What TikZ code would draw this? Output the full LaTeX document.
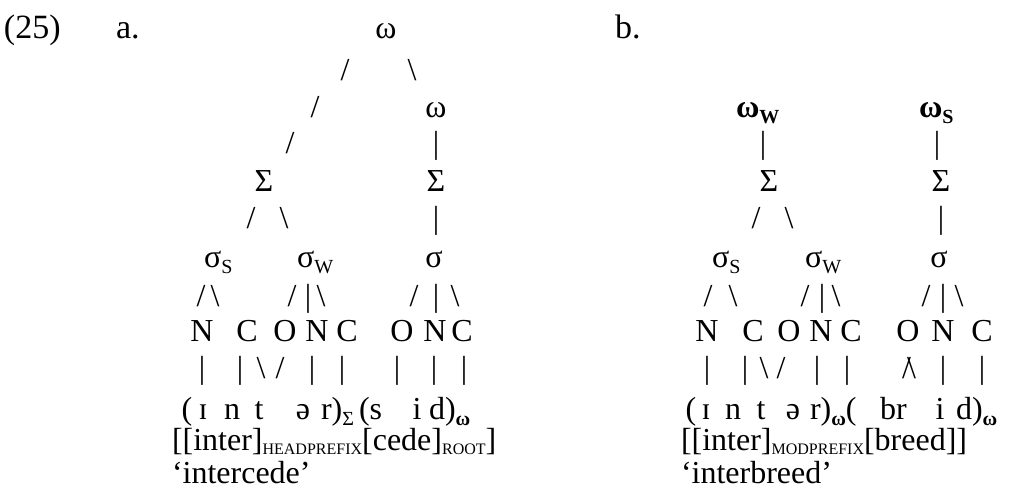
\documentclass[tikz,border=0pt]{standalone}
\usepackage{fontspec}
\setmainfont{Liberation Serif}
\newcommand{\lsub}[1]{\raisebox{-0.2em}{\fontsize{20}{20}\selectfont #1}}
\newcommand{\scsub}[1]{\raisebox{-0.14em}{\fontsize{16}{16}\selectfont #1}}
\newcommand{\bs}{\textbackslash}
\begin{document}
\begin{tikzpicture}[x=1pt,y=-1pt,
  tx/.style={inner sep=0pt, outer sep=0pt, anchor=base, font=\fontsize{32}{38}\selectfont},
  tw/.style={tx, anchor=base west},
  big/.style={tw, font=\fontsize{34}{40}\selectfont}]
\useasboundingbox (0,0) rectangle (1014,501);
% labels
\node[big] (num) at (4,38) {(25)};
\node[big] (la) at (116,38) {a.};
\node[big] (lb) at (615,38) {b.};
% ---- tree a ----
\node[tx] (a0) at (386,38) {ω};
\node[tx] (a1l) at (345,80) {/};
\node[tx] (a1r) at (412,80) {\bs};
\node[tx] (a2l) at (315,117) {/};
\node[tx] (a2w) at (436,117) {ω};
\node[tx] (a3l) at (290,153) {/};
\node[tx] (a3b) at (436,153) {|};
\node[tx] (aS1) at (264,191) {Σ};
\node[tx] (aS2) at (436,191) {Σ};
\node[tx] (a4l) at (251,228) {/};
\node[tx] (a4r) at (284,228) {\bs};
\node[tx] (a4b) at (436,228) {|};
\node[tw] (as1) at (204,267) {σ\lsub{S}};
\node[tw] (as2) at (297,267) {σ\lsub{W}};
\node[tx] (as3) at (434,267) {σ};
\node[tx] (a5a) at (201,306) {/};
\node[tx] (a5b) at (215,306) {\bs};
\node[tx] (a5c) at (292,306) {/};
\node[tx] (a5d) at (308,306) {|};
\node[tx] (a5e) at (321,306) {\bs};
\node[tx] (a5f) at (414,306) {/};
\node[tx] (a5g) at (436,306) {|};
\node[tx] (a5h) at (455,306) {\bs};
\node[tx] (aN1) at (202,341) {N};
\node[tx] (aC1) at (247,341) {C};
\node[tx] (aO1) at (285,341) {O};
\node[tx] (aN2) at (317,341) {N};
\node[tx] (aC2) at (347,341) {C};
\node[tx] (aO2) at (402,341) {O};
\node[tx] (aN3) at (435,341) {N};
\node[tx] (aC3) at (462,341) {C};
\node[tx] (a6a) at (202,378) {|};
\node[tx] (a6b) at (240,378) {|};
\node[tx] (a6c) at (261,378) {\bs};
\node[tx] (a6d) at (280,378) {/};
\node[tx] (a6e) at (312,378) {|};
\node[tx] (a6f) at (342,378) {|};
\node[tx] (a6g) at (397,378) {|};
\node[tx] (a6h) at (434,378) {|};
\node[tx] (a6i) at (464,378) {|};
\node[tx] (ap1) at (187,419) {(};
\node[tx] (ap2) at (203,419) {ɪ};
\node[tx] (ap3) at (232,419) {n};
\node[tx] (ap4) at (259,419) {t};
\node[tx] (ap5) at (303,419) {ə};
\node[tw] (ap6) at (321,419) {r)\lsub{Σ}};
\node[tw] (ap7) at (359,419) {(s};
\node[tx] (ap8) at (417,419) {i};
\node[tw] (ap9) at (429,419) {d)\lsub{\bfseries ω}};
\node[tw] (amorph) at (172,450) {[[inter]\scsub{HEADPREFIX}[cede]\scsub{ROOT}]};
\node[tw] (agloss) at (172,483) {‘intercede’};
% ---- tree b ----
\node[tw] (bw1) at (736,117) {\bfseries ω\lsub{W}};
\node[tw] (bw2) at (919,117) {\bfseries ω\lsub{S}};
\node[tx] (b3a) at (763,153) {|};
\node[tx] (b3b) at (937,153) {|};
\node[tx] (bS1) at (769,191) {Σ};
\node[tx] (bS2) at (941,191) {Σ};
\node[tx] (b4l) at (756,228) {/};
\node[tx] (b4r) at (789,228) {\bs};
\node[tx] (b4b) at (941,228) {|};
\node[tw] (bs1) at (712,267) {σ\lsub{S}};
\node[tw] (bs2) at (805,267) {σ\lsub{W}};
\node[tx] (bs3) at (939,267) {σ};
\node[tx] (b5a) at (708,306) {/};
\node[tx] (b5b) at (733,306) {\bs};
\node[tx] (b5c) at (805,306) {/};
\node[tx] (b5d) at (822,306) {|};
\node[tx] (b5e) at (836,306) {\bs};
\node[tx] (b5f) at (926,306) {/};
\node[tx] (b5g) at (943,306) {|};
\node[tx] (b5h) at (959,306) {\bs};
\node[tx] (bN1) at (707,341) {N};
\node[tx] (bC1) at (753,341) {C};
\node[tx] (bO1) at (789,341) {O};
\node[tx] (bN2) at (821,341) {N};
\node[tx] (bC2) at (851,341) {C};
\node[tx] (bO2) at (908,341) {O};
\node[tx] (bN3) at (943,341) {N};
\node[tx] (bC3) at (982,341) {C};
\node[tx] (b6a) at (707,378) {|};
\node[tx] (b6b) at (745,378) {|};
\node[tx] (b6c) at (764,378) {\bs};
\node[tx] (b6d) at (781,378) {/};
\node[tx] (b6e) at (817,378) {|};
\node[tx] (b6f) at (847,378) {|};
\node[tx] (b6g) at (909,378) {/\kern-0.12em\bs};
\node[tx] (b6h) at (943,378) {|};
\node[tx] (b6i) at (982,378) {|};
\node[tx] (bp1) at (691,419) {(};
\node[tx] (bp2) at (706,419) {ɪ};
\node[tx] (bp3) at (733,419) {n};
\node[tx] (bp4) at (761,419) {t};
\node[tx] (bp5) at (793,419) {ə};
\node[tw] (bp6) at (810,419) {r)\lsub{\bfseries ω}(};
\node[tw] (bp7) at (880,419) {br};
\node[tx] (bp8) at (940,419) {i};
\node[tw] (bp9) at (956,419) {d)\lsub{\bfseries ω}};
\node[tw] (bmorph) at (681,450) {[[inter]\scsub{MODPREFIX}[breed]]};
\node[tw] (bgloss) at (681,483) {‘interbreed’};
\end{tikzpicture}
\end{document}
